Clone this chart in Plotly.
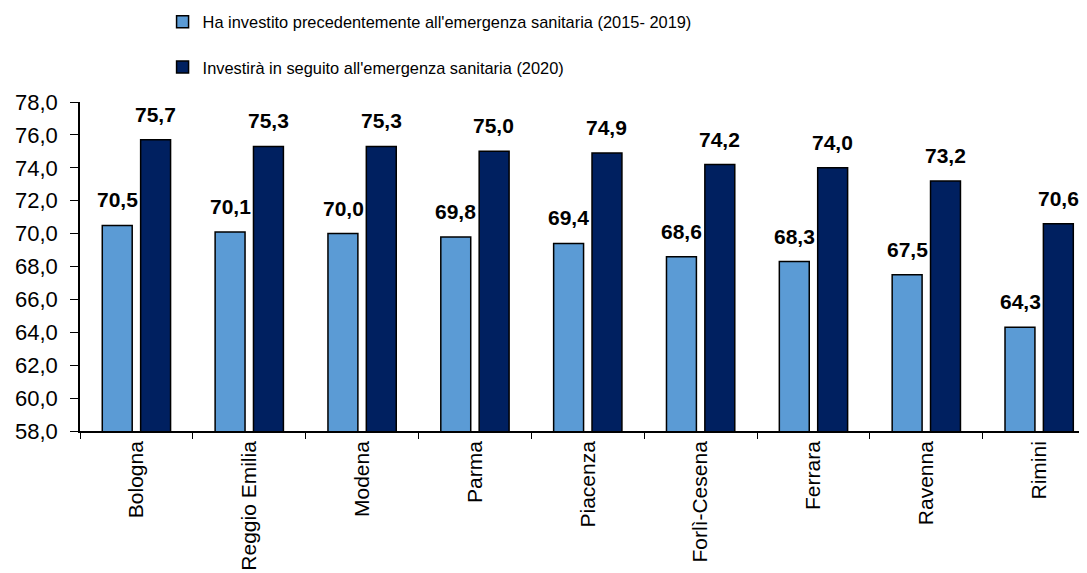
import plotly.graph_objects as go

provinces = ["Bologna", "Reggio Emilia", "Modena", "Parma", "Piacenza",
             "Forlì-Cesena", "Ferrara", "Ravenna", "Rimini"]
before_2020 = [70.5, 70.1, 70.0, 69.8, 69.4, 68.6, 68.3, 67.5, 64.3]
after_2020 = [75.7, 75.3, 75.3, 75.0, 74.9, 74.2, 74.0, 73.2, 70.6]
y_ticks = [58, 60, 62, 64, 66, 68, 70, 72, 74, 76, 78]

name_before = "Ha investito precedentemente all'emergenza sanitaria (2015- 2019)"
name_after = "Investirà in seguito all'emergenza sanitaria (2020)"

FONT = "Liberation Sans, Arial, sans-serif"
LIGHT = "#5b9bd5"
DARK = "#002060"

fig = go.Figure()
fig.add_trace(go.Bar(x=provinces, y=before_2020, name=name_before,
                     marker=dict(color=LIGHT, line=dict(color="black", width=1.5)),
                     legendgroup="a"))
fig.add_trace(go.Bar(x=provinces, y=after_2020, name=name_after,
                     marker=dict(color=DARK, line=dict(color="black", width=1.5)),
                     legendgroup="b"))

# value labels above the bars
for vals, shift in ((before_2020, -19), (after_2020, 19)):
    for p, v in zip(provinces, vals):
        fig.add_annotation(x=p, y=v, text=f"{v:.1f}".replace(".", ","),
                           xref="x", yref="y", showarrow=False,
                           xanchor="center", yanchor="bottom",
                           xshift=shift, yshift=12,
                           font=dict(family=FONT, size=21, color="black",
                                     weight="bold"))

# page body has an 8px margin, so the figure sits 8px right/down
fig.update_layout(
    width=1087, height=573,
    margin=dict(l=72, r=8, t=94, b=150, autoexpand=False),
    paper_bgcolor="white", plot_bgcolor="white",
    font=dict(family=FONT, size=21, color="black"),
    barmode="group", bargap=0.32, bargroupgap=0.22,
    separators=",.",
    legend=dict(x=0.082, xref="paper", xanchor="left", y=1.296, yref="paper",
                yanchor="top", traceorder="grouped", tracegroupgap=21,
                font=dict(family=FONT, size=16.4), itemwidth=30),
    showlegend=True,
)
fig.update_xaxes(range=[-0.5, 8.424], tickangle=-90, tickson="boundaries",
                 ticks="outside", ticklen=6, tickcolor="black",
                 showline=True, linecolor="black", linewidth=1.5,
                 showgrid=False, automargin=False, tickfont=dict(size=21))
fig.update_yaxes(range=[58, 78], tickvals=y_ticks, tickformat=".1f",
                 ticks="outside", ticklen=8, tickcolor="black",
                 showline=True, linecolor="black", linewidth=1.5,
                 showgrid=False, zeroline=False, automargin=False,
                 ticklabelstandoff=8, tickfont=dict(size=22))

fig.write_html("out.html")
